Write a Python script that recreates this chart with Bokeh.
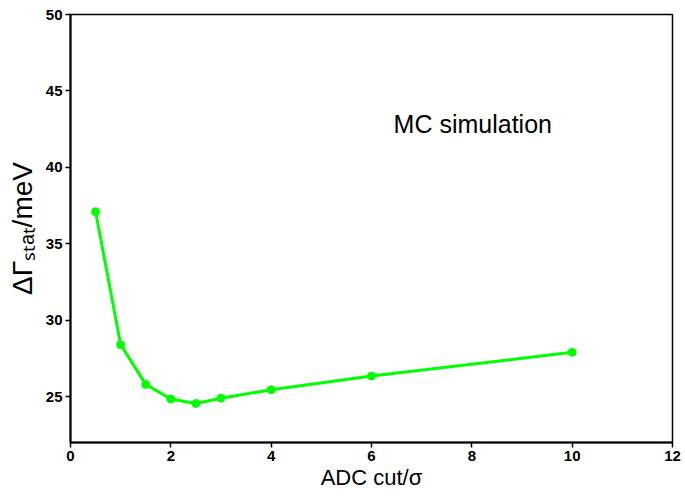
from bokeh.plotting import figure
from bokeh.models import Label, Range1d, FixedTicker
from bokeh.embed import file_html
from bokeh.resources import INLINE

# data
adc_cut = [0.5, 1.0, 1.5, 2.0, 2.5, 3.0, 4.0, 6.0, 10.0]
delta_gamma = [37.1, 28.4, 25.8, 24.85, 24.55, 24.9, 25.45, 26.35, 27.9]
x_ticks = [0, 2, 4, 6, 8, 10, 12]
y_ticks = [25, 30, 35, 40, 45, 50]

SANS = "'Liberation Sans', sans-serif"

p = figure(width=685, height=500, output_backend="svg", toolbar_location=None,
           x_range=Range1d(0, 12), y_range=Range1d(22, 50),
           min_border_left=70, min_border_right=13, min_border_top=14, min_border_bottom=58)
p.background_fill_color = "white"
p.border_fill_color = "white"
p.grid.visible = False
p.outline_line_color = "black"
p.outline_line_width = 1.5

for ax in (p.xaxis[0], p.yaxis[0]):
    ax.axis_line_width = 2
    ax.axis_line_color = "black"
    ax.major_tick_line_width = 1.5
    ax.major_tick_line_color = "black"
    ax.major_tick_out = 5
    ax.major_tick_in = 0
    ax.minor_tick_line_color = None
    ax.major_label_text_font = SANS
    ax.major_label_text_font_style = "bold"
    ax.major_label_text_font_size = "15px"
    ax.major_label_text_color = "black"
    ax.major_label_standoff = 3
    ax.axis_label_text_font = SANS
    ax.axis_label_text_font_style = "normal"
    ax.axis_label_text_color = "black"
p.xaxis.ticker = FixedTicker(ticks=x_ticks)
p.yaxis.ticker = FixedTicker(ticks=y_ticks)

p.xaxis.axis_label = "ADC cut/σ"
p.xaxis.axis_label_text_font_size = "22px"
p.xaxis.axis_label_standoff = 1

p.yaxis.axis_label = "ΔΓₛₜₐₜ/meV"
p.yaxis.axis_label_text_font_size = "28px"
p.yaxis.axis_label_standoff = 5

p.line(adc_cut, delta_gamma, line_color="#00ff00", line_width=3)
p.scatter(adc_cut, delta_gamma, marker="circle", size=8,
          fill_color="#00ff00", line_color="#00ff00")

# text annotation inside the plot
p.add_layout(Label(x=6.44, y=41.95, text="MC simulation", text_font=SANS,
                   text_font_size="25px", text_color="black"))

open("out.html", "w").write(file_html(p, INLINE))
